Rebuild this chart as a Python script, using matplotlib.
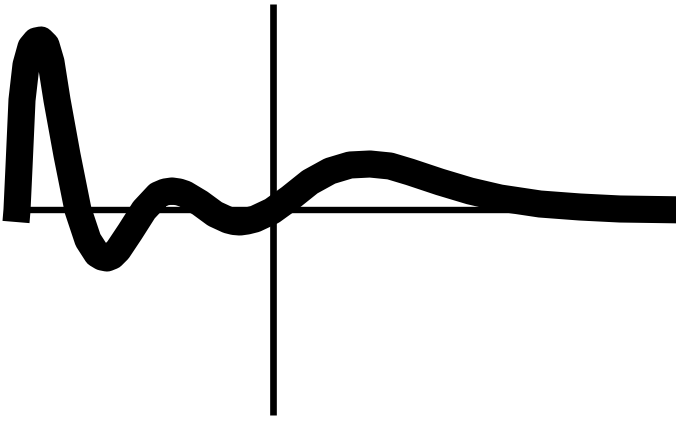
import numpy as np
import matplotlib
matplotlib.use('Agg')
import matplotlib.pyplot as plt

# damped response (x: time, y: response)
t = [-2.57, -2.56, -2.54, -2.51, -2.47, -2.42, -2.37, -2.32, -2.27, -2.22,
     -2.16, -2.06, -1.95, -1.85, -1.76, -1.71, -1.66, -1.61, -1.55, -1.43,
     -1.29, -1.15, -1.08, -1.01, -0.94, -0.88, -0.73, -0.58, -0.45, -0.39,
     -0.33, -0.26, -0.18, -0.01, 0.17, 0.37, 0.57, 0.77, 0.97, 1.17, 1.37,
     1.67, 1.97, 2.27, 2.67, 3.07, 3.47, 4.17]
resp = [-0.12, 0.00, 0.43, 1.10, 1.45, 1.63, 1.69, 1.70, 1.65, 1.48,
        1.10, 0.55, 0.00, -0.30, -0.44, -0.47, -0.48, -0.46, -0.40, -0.22,
        0.00, 0.15, 0.18, 0.19, 0.18, 0.16, 0.07, -0.04, -0.10, -0.115,
        -0.12, -0.11, -0.09, -0.01, 0.12, 0.28, 0.39, 0.45, 0.46, 0.44, 0.38,
        0.28, 0.19, 0.12, 0.06, 0.03, 0.01, 0.00]

fig = plt.figure(figsize=(6.76, 4.21), dpi=100)
ax = fig.add_axes([0, 0, 1, 1])
ax.set_xlim(-2.73, 4.03)
ax.set_ylim(-2.11, 2.10)
ax.axis('off')

# axes lines
ax.plot([0, 0], [-2.05, 2.06], color='black', lw=4.8, solid_capstyle='butt')
ax.plot([-2.43, 4.2], [0, 0], color='black', lw=4.6, solid_capstyle='butt')

ax.plot(t, resp, color='black', lw=19.5, solid_capstyle='butt',
        solid_joinstyle='round')

fig.savefig('out.png', dpi=100)
